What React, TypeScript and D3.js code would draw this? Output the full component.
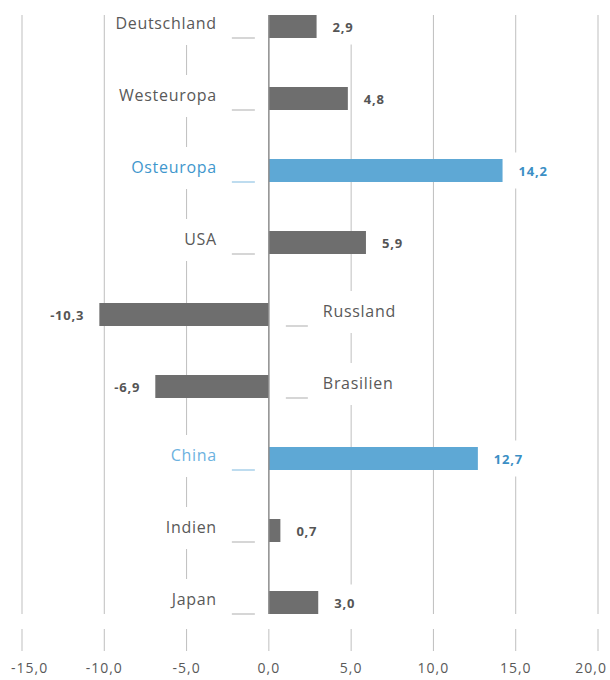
import { useRef, useEffect } from "react";
import * as d3 from "d3";

const categories = [
  "Deutschland",
  "Westeuropa",
  "Osteuropa",
  "USA",
  "Russland",
  "Brasilien",
  "China",
  "Indien",
  "Japan",
];
const values = [2.9, 4.8, 14.2, 5.9, -10.3, -6.9, 12.7, 0.7, 3.0];
const highlighted = ["Osteuropa", "China"];
const xTicks = [-15, -10, -5, 0, 5, 10, 15, 20];

const fmt = (v: number) => v.toFixed(1).replace(".", ",");

const App = () => {
  const svgRef = useRef<SVGSVGElement>(null);

  useEffect(() => {
    const width = 610;
    const height = 680;
    const svg = d3.select(svgRef.current);
    svg.selectAll("*").remove();
    svg.attr("width", width).attr("height", height);

    const font = "'Open Sans', 'Noto Sans', sans-serif";

    const x = d3.scaleLinear().domain([-15, 20]).range([22, 598]);
    const y = d3
      .scaleBand()
      .domain(categories)
      .range([15, 614])
      .paddingInner(49 / 72)
      .paddingOuter(0);

    const [top, bottom] = y.range();
    const x0 = x(0);

    // Gitterlinien
    svg
      .append("g")
      .selectAll("line")
      .data(xTicks.filter((t) => t !== 0))
      .join("line")
      .attr("x1", (d) => x(d))
      .attr("x2", (d) => x(d))
      .attr("y1", top)
      .attr("y2", bottom)
      .attr("stroke", "#bfbfbf")
      .attr("stroke-width", 1);

    const rows = categories.map((c, i) => ({
      name: c,
      value: values[i],
      hi: highlighted.includes(c),
    }));

    // Beschriftungen (mit weißem Hintergrund, unterbricht Gitter)
    const labels = svg.append("g");
    rows.forEach((d) => {
      const by = y(d.name);
      const neg = d.value < 0;
      const g = labels.append("g");
      const bg = g.append("rect").attr("fill", "#fff");
      const t = g
        .append("text")
        .attr("x", neg ? x0 + 54 : x0 - 52)
        .attr("y", by + 8)
        .attr("dy", "0.35em")
        .attr("text-anchor", neg ? "start" : "end")
        .attr("font-family", font)
        .attr("font-size", 16)
        .attr("letter-spacing", 0.7)
        .attr("fill", d.name === "China" ? "#6cb2df" : d.hi ? "#3f97cd" : "#595959")
        .text(d.name);
      const bb = t.node().getBBox();
      bg.attr("x", bb.x - 6)
        .attr("y", by + 8 - 20)
        .attr("width", bb.width + 12)
        .attr("height", 42);

      // kleine Markierung
      g.append("line")
        .attr("x1", neg ? x0 + 17 : x0 - 37)
        .attr("x2", neg ? x0 + 39 : x0 - 14)
        .attr("y1", by + y.bandwidth())
        .attr("y2", by + y.bandwidth())
        .attr("stroke", d.hi ? "#a9d0ea" : "#c8c8c8")
        .attr("stroke-width", 1.5);

      // Wertbeschriftung
      const vbg = g.append("rect").attr("fill", "#fff");
      const vt = g
        .append("text")
        .attr("x", neg ? x(d.value) - 15 : x(d.value) + 16)
        .attr("y", by + y.bandwidth() / 2 + 1)
        .attr("dy", "0.35em")
        .attr("text-anchor", neg ? "end" : "start")
        .attr("font-family", font)
        .attr("font-size", 13)
        .attr("font-weight", "bold")
        .attr("letter-spacing", 0.8)
        .attr("fill", d.hi ? "#3b8fc5" : "#555")
        .text(fmt(d.value));
      const vb = vt.node().getBBox();
      vbg
        .attr("x", vb.x - 6)
        .attr("y", by + y.bandwidth() / 2 - 18)
        .attr("width", vb.width + 12)
        .attr("height", 36);
    });

    // Balken
    svg
      .append("g")
      .selectAll("rect")
      .data(rows)
      .join("rect")
      .attr("x", (d) => x(Math.min(0, d.value)))
      .attr("y", (d) => y(d.name))
      .attr("width", (d) => Math.abs(x(d.value) - x0))
      .attr("height", y.bandwidth())
      .attr("fill", (d) => (d.hi ? "#5ea8d5" : "#6e6e6e"));

    // Nulllinie
    svg
      .append("line")
      .attr("x1", x0)
      .attr("x2", x0)
      .attr("y1", top)
      .attr("y2", bottom)
      .attr("stroke", "#8c8c8c")
      .attr("stroke-width", 1.5);

    // X-Achse
    const axis = svg.append("g");
    axis
      .selectAll("line")
      .data(xTicks)
      .join("line")
      .attr("x1", (d) => x(d))
      .attr("x2", (d) => x(d))
      .attr("y1", 629)
      .attr("y2", 651)
      .attr("stroke", "#bfbfbf");
    axis
      .selectAll("text")
      .data(xTicks)
      .join("text")
      .attr("x", (d) => x(d))
      .attr("y", 668)
      .attr("dy", "0.35em")
      .attr("text-anchor", "middle")
      .attr("font-family", font)
      .attr("font-size", 14)
      .attr("letter-spacing", 1)
      .attr("fill", "#595959")
      .text((d) => fmt(d))
      .each(function () {
        // Randbeschriftungen innerhalb der Fläche halten
        const b = this.getBBox();
        const cur = +d3.select(this).attr("x");
        if (b.x < 11) d3.select(this).attr("x", cur + (11 - b.x));
        else if (b.x + b.width > 607)
          d3.select(this).attr("x", cur - (b.x + b.width - 607));
      });
  }, []);

  return (
    <svg
      ref={svgRef}
      style={{ position: "absolute", left: 0, top: 0, display: "block" }}
    ></svg>
  );
};

export default App;
